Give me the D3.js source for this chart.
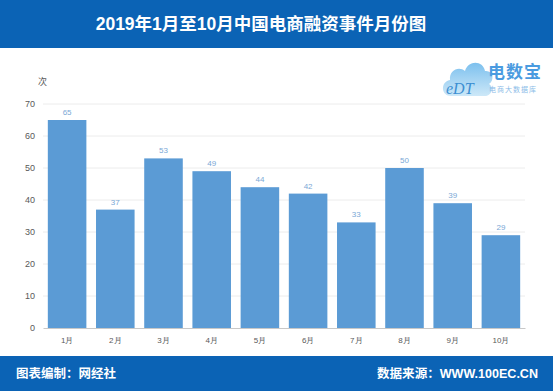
<!DOCTYPE html>
<html>
<head>
<meta charset="utf-8">
<script src="https://cdn.jsdelivr.net/npm/d3@7"></script>
<style>
  body { margin: 0; background: #fff; }
  svg { display: block; font-family: "Liberation Sans", Arial, "Noto Sans CJK SC", sans-serif; }
</style>
</head>
<body>
<div id="chart"></div>
<script>
var months = ["1月", "2月", "3月", "4月", "5月", "6月", "7月", "8月", "9月", "10月"];
var counts = [65, 37, 53, 49, 44, 42, 33, 50, 39, 29];
var yTicks = [0, 10, 20, 30, 40, 50, 60, 70];

var W = 553, H = 391;
var margin = {top: 104, right: 28, bottom: 63, left: 43},
    width = W - margin.left - margin.right,
    height = H - margin.top - margin.bottom;

var svg = d3.select("#chart").append("svg")
    .attr("width", W)
    .attr("height", H);

// header band
svg.append("rect").attr("x", 0).attr("y", 0).attr("width", W).attr("height", 48)
    .attr("fill", "#0b63b5");
svg.append("text")
    .attr("x", 261).attr("y", 30)
    .attr("text-anchor", "middle")
    .attr("fill", "#fff")
    .attr("font-size", 17.5)
    .attr("font-weight", "bold")
    .text("2019年1月至10月中国电商融资事件月份图");

// footer band
svg.append("rect").attr("x", 0).attr("y", 356).attr("width", W).attr("height", H - 356)
    .attr("fill", "#0b63b5");
svg.append("text")
    .attr("x", 16).attr("y", 378)
    .attr("fill", "#fff").attr("font-size", 12.5).attr("font-weight", "bold")
    .text("图表编制：网经社");
svg.append("text")
    .attr("x", 377).attr("y", 378)
    .attr("textLength", 161).attr("lengthAdjust", "spacingAndGlyphs")
    .attr("fill", "#fff").attr("font-size", 12.5).attr("font-weight", "bold")
    .text("数据来源：WWW.100EC.CN");

// logo
var logo = svg.append("g").attr("transform", "translate(443,56)");
var grad = svg.append("defs").append("linearGradient").attr("id", "cloud")
    .attr("x1", "0").attr("y1", "0").attr("x2", "0").attr("y2", "1");
grad.append("stop").attr("offset", "0").attr("stop-color", "#7cc0ee");
grad.append("stop").attr("offset", "1").attr("stop-color", "#cde8f8");
logo.append("path")
    .attr("d", "M8,40 C-2,40 -3,26 7,24 C6,14 16,10 22,15 C25,4 40,4 42,15 C50,14 52,24 46,28 C52,32 48,40 42,40 Z")
    .attr("fill", "url(#cloud)");
logo.append("text").attr("x", 3).attr("y", 38)
    .attr("font-family", "Liberation Serif, serif")
    .attr("font-size", 16).attr("fill", "#3d8fd2").attr("font-style", "italic")
    .text("eDT");
logo.append("text").attr("x", 45).attr("y", 22)
    .attr("font-size", 17).attr("font-weight", "bold").attr("fill", "#4a9be0")
    .attr("letter-spacing", 1)
    .text("电数宝");
logo.append("text").attr("x", 46).attr("y", 36)
    .attr("font-size", 7).attr("fill", "#8cbde8")
    .attr("letter-spacing", 1)
    .text("电商大数据库");

var g = svg.append("g")
    .attr("transform", "translate(" + margin.left + "," + margin.top + ")");

var x = d3.scaleBand().domain(months).range([0, width]).paddingInner(0.2).paddingOuter(0.1);
var y = d3.scaleLinear().domain([0, 70]).range([height, 0]);

// gridlines
g.selectAll(".grid").data(yTicks.slice(1)).enter().append("line")
    .attr("x1", 0).attr("x2", width)
    .attr("y1", function(d) { return y(d); })
    .attr("y2", function(d) { return y(d); })
    .attr("stroke", "#ececec");

var yAxis = g.append("g").call(d3.axisLeft(y).tickValues(yTicks).tickSize(0).tickPadding(8));
yAxis.select(".domain").remove();
yAxis.selectAll("text").attr("fill", "#595959").attr("font-size", 9);

svg.append("text").attr("x", 38).attr("y", 85)
    .attr("fill", "#595959").attr("font-size", 9).text("次");

g.selectAll(".bar").data(counts).enter().append("rect")
    .attr("x", function(d, i) { return x(months[i]); })
    .attr("y", function(d) { return y(d); })
    .attr("width", x.bandwidth())
    .attr("height", function(d) { return height - y(d); })
    .attr("fill", "#5b9bd5");

g.selectAll(".val").data(counts).enter().append("text")
    .attr("x", function(d, i) { return x(months[i]) + x.bandwidth() / 2; })
    .attr("y", function(d) { return y(d) - 5; })
    .attr("text-anchor", "middle")
    .attr("fill", "#7aa8d6")
    .attr("font-size", 8)
    .text(function(d) { return d; });

var xAxis = g.append("g").attr("transform", "translate(0," + height + ")")
    .call(d3.axisBottom(x).tickSize(0).tickPadding(9));
xAxis.select(".domain").attr("stroke", "#c8c8c8");
xAxis.selectAll("text").attr("fill", "#595959").attr("font-size", 8);
</script>
</body>
</html>
